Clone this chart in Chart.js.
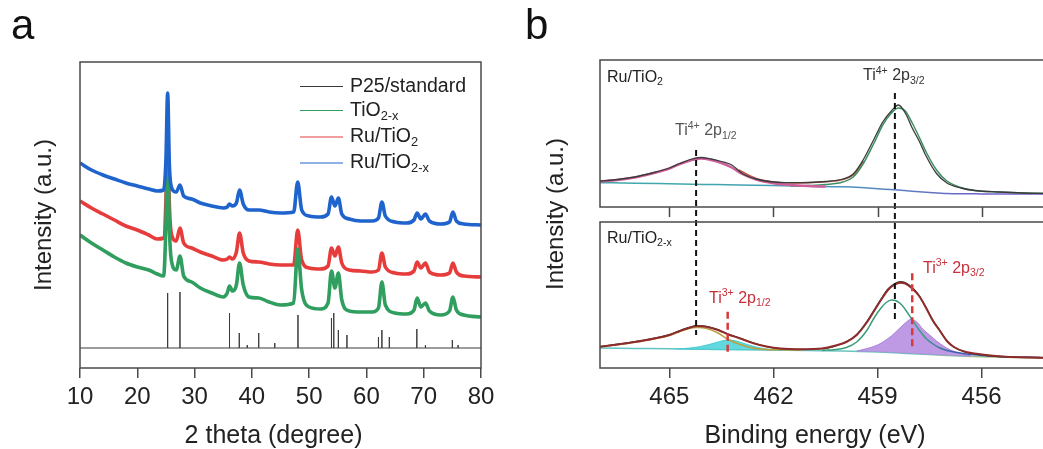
<!DOCTYPE html>
<html>
<head>
<meta charset="utf-8">
<script src="https://cdn.jsdelivr.net/npm/chart.js@4.4.1/dist/chart.umd.min.js"></script>
<style>
  html, body { margin: 0; padding: 0; background: #fff; overflow: hidden; }
  #wrap { position: relative; width: 1043px; height: 449px; overflow: hidden; }
  #wrap canvas { position: absolute; top: 0; }
  #xrd { left: 0; }
  #xps { left: 520px; }
  .panel-tag { position: absolute; font-family: 'Liberation Sans', Arial, sans-serif; font-size: 42px; line-height: 1; color: #111; }
</style>
</head>
<body>
<div id="wrap">
  <canvas id="xrd" width="520" height="449"></canvas>
  <canvas id="xps" width="545" height="449"></canvas>
  <div class="panel-tag" style="left:11px; top:4px;">a</div>
  <div class="panel-tag" style="left:525px; top:4px;">b</div>
</div>
<script>
// ---------------- (a) XRD patterns ----------------
const twoTheta = [10, 12, 14, 16, 18, 20, 22, 23.5, 24.6, 25.0, 25.3, 25.6, 26.0, 26.8, 27.45, 28.1, 29.5, 31, 33, 35,
  35.7, 36.1, 36.6, 37.3, 37.85, 38.5, 39.5, 41.2, 43, 45, 47.3, 48.0, 48.7, 50, 52, 53.3, 53.9, 54.5, 55.1, 55.7,
  57, 59, 61, 62.1, 62.7, 63.3, 65, 67, 68.3, 68.85, 69.5, 70.3, 71, 73, 74.5, 75.1, 75.7, 77, 80];
const ruTiO2x = [205, 198, 193, 189, 185, 182, 179, 177, 178, 208, 275, 203, 180, 176, 183, 172, 169, 165, 162, 160,
  161, 164, 162, 165, 178, 164, 158, 158, 156, 155, 156, 186, 158, 152, 151, 154, 171, 162, 170, 154,
  149, 147, 147, 150, 166, 152, 146, 145, 148, 155, 149, 154, 147, 144, 146, 156, 147, 144, 143];
const ruTiO2 = [167, 160, 154, 148, 142, 138, 133, 129, 130, 168, 243, 163, 133, 127, 140, 125, 120, 116, 112, 108,
  109, 111, 109, 116, 135, 115, 107, 106, 104, 103, 103, 138, 108, 100, 99, 102, 120, 112, 121, 105,
  98, 97, 96, 98, 115, 101, 95, 94, 97, 106, 100, 105, 96, 93, 95, 105, 96, 92, 91];
const tiO2x = [133, 125, 118, 111, 105, 101, 98, 94, 92, 143, 218, 140, 106, 98, 112, 92, 86, 80, 75, 71,
  75, 82, 77, 83, 105, 83, 71, 70, 66, 63, 65, 119, 78, 61, 59, 65, 97, 80, 95, 68,
  57, 56, 56, 60, 86, 63, 55, 54, 58, 70, 61, 65, 57, 53, 57, 71, 58, 53, 51];
// reference pattern: reflection positions and stick tops above the baseline level
const p25Positions = [25.3, 27.45, 36.1, 37.8, 39.2, 41.2, 44.0, 48.05, 53.9, 54.3, 55.1, 56.6, 62.1, 62.7, 64.0, 68.8, 70.3, 75.0, 76.0];
const p25Tops = [75, 76, 55, 35, 23, 35, 25, 53, 50, 55, 38, 33, 31, 38, 31, 39, 23, 28, 23];
const p25Baseline = 20;
const xrdTicks = [10, 20, 30, 40, 50, 60, 70, 80];

// ---------------- (b) Ti 2p XPS ----------------
const beTicks = [465, 462, 459, 456];
// Ru/TiO2 (upper panel, local intensity units)
const topRawBE = [467, 466.5, 466, 465.5, 465, 464.7, 464.4, 464.1, 463.8, 463.5, 463.2, 462.9, 462.5, 462, 461.5, 461, 460.5, 460, 459.7, 459.4,
  459.1, 458.85, 458.6, 458.4, 458.2, 458, 457.8, 457.6, 457.3, 457, 456.6, 456.2, 455.5, 454.8, 454];
const topRaw = [26, 27.5, 30, 34, 39, 43.5, 47.5, 49.5, 48, 45.5, 42, 33.5, 28, 25, 24.3, 24.5, 25.5, 28, 33, 48,
  68, 85, 96, 102, 94, 79, 66, 51, 33.5, 24, 19, 16.5, 15, 14, 13.5];
const topP12BE = [467, 466.5, 466, 465.5, 465, 464.7, 464.4, 464.1, 463.8, 463.5, 463.2, 462.9, 462.5, 462, 461.5, 461, 460.5];
const topP12 = [25.5, 27, 29.5, 33.5, 38.5, 43, 46.5, 48.5, 47, 44, 39.5, 33, 27.5, 23.8, 22, 21, 20.4];
const topP32BE = [461.5, 461, 460.5, 460, 459.7, 459.4, 459.1, 458.85, 458.6, 458.4, 458.2, 458, 457.8, 457.6, 457.3, 457, 456.6, 456.2, 455.5, 454.8, 454];
const topP32 = [21, 21.5, 22.5, 25, 30, 44, 64, 82, 94, 99, 96, 84, 70, 55, 37, 26, 19.5, 16.5, 15, 14, 13.5];
const topSumBE = [463, 462.5, 462, 461.5, 461, 460.5, 460, 459.7, 459.4];
const topSum = [37, 28.5, 25, 24, 24.2, 25.2, 27.5, 32, 46];
const topBgBE = [467, 466, 465, 464, 463, 462, 461, 460, 459.5, 459, 458.5, 458, 457.5, 457, 456, 455, 454];
const topBg = [24.3, 23.8, 23.2, 22.6, 22, 21.5, 20.8, 20.2, 19.5, 18.3, 17.2, 15.8, 14.6, 13.6, 13.1, 13, 12.8];
const topOffset = 161;
// Ru/TiO2-x (lower panel)
const botBE = [467, 466.5, 466, 465.5, 465, 464.7, 464.4, 464.2, 463.9, 463.6, 463.3, 463, 462.6, 462.2, 461.8, 461.2, 460.6, 460.2, 459.9, 459.6,
  459.3, 459.1, 458.9, 458.7, 458.5, 458.35, 458.2, 458, 457.8, 457.6, 457.4, 457.2, 457, 456.8, 456.5, 456, 455.3, 454.5, 454];
const botEnvelope = [21.3, 23.5, 26, 29, 33, 37, 40.5, 42, 41, 38, 33.5, 30, 25, 21.5, 19.5, 18.8, 19.5, 22.5, 26, 33,
  46, 57, 68, 78, 83.5, 85.3, 84.5, 79.5, 72, 60, 47, 37, 27, 21, 16.5, 13.5, 11.3, 10.5, 10.2];
const botRaw = [21.5, 23.8, 26.3, 29.5, 33.5, 37.5, 41, 42.3, 41.5, 38.5, 34, 30.3, 25.2, 21.3, 19.3, 18.6, 19.3, 22.2, 26.2, 33.5,
  46.8, 58, 69, 79, 84.5, 86.3, 85.5, 80.5, 72.5, 60.5, 47.5, 37.5, 27.2, 21, 16.3, 13.2, 11, 10.3, 10];
const botTi4P12BE = [467, 466.5, 466, 465.5, 465, 464.7, 464.4, 464.2, 463.9, 463.6, 463.3, 463, 462.6, 462.2, 461.8, 461.2];
const botTi4P12 = [21.2, 23.3, 25.8, 28.8, 32.5, 36.5, 39.8, 40.4, 39.3, 35, 28.5, 24, 20, 18.6, 18.2, 17.8];
const botTi4P32BE = [460.6, 460.2, 459.9, 459.6, 459.3, 459.1, 458.9, 458.75, 458.6, 458.45, 458.3, 458.15, 458, 457.8, 457.6, 457.4, 457.2, 457, 456.7, 456.3, 455.8, 455, 454.3];
const botTi4P32 = [17.6, 18.6, 20.5, 26, 38, 50, 60, 65.5, 68, 67, 63, 56, 48, 38, 29.5, 24, 20, 17.5, 15.5, 13.5, 12, 11, 10.5];
const ti3P12BE = [464.8, 464.4, 464.1, 463.8, 463.55, 463.3, 463.05, 462.8, 462.5, 462.2, 461.8];
const ti3P12 = [19, 20, 21.5, 24, 26.5, 28, 26.8, 24, 21, 19, 18];
const ti3P12Base = [19, 18.8, 18.7, 18.5, 18.4, 18.3, 18.2, 18.1, 18, 17.9, 17.7];
const ti3P32BE = [459.6, 459.3, 459, 458.8, 458.6, 458.4, 458.2, 458.03, 457.85, 457.7, 457.5, 457.3, 457.1, 456.9, 456.7, 456.5, 456.3];
const ti3P32 = [17, 19.5, 23, 27, 32, 38.5, 45, 48.7, 45.5, 39, 33, 27, 22, 18, 15.5, 13.5, 12];
const ti3P32Base = [16.6, 16.2, 16, 15.7, 15.4, 15.1, 14.7, 14.4, 14.1, 13.8, 13.4, 13.1, 12.8, 12.4, 12.1, 11.8, 11.5];
const botBgBE = [467, 466, 465, 464, 463, 462, 461, 460, 459.5, 459, 458.5, 458, 457.5, 457, 456.5, 456, 455, 454];
const botBg = [20, 19.6, 19.2, 18.7, 18.2, 17.8, 17.4, 17, 16.6, 16, 15.2, 14.3, 13.4, 12.6, 11.8, 11.2, 10.4, 10];
// peak-position markers (shared intensity units)
const ti4MarkBE = [464.23, 458.5];
const ti4MarkTop = [218, 275];
const ti4MarkBottom = [33, 45];
const ti3MarkBE = [463.32, 458.0];
const ti3MarkTop = [56.3, 94.7];
const ti3MarkBottom = [14.7, 21.3];
const panelRanges = [[161, 308], [0, 146]];

// ---------------- helpers ----------------
const FONT = "'Liberation Sans', Arial, Helvetica, sans-serif";
Chart.defaults.font.family = FONT;
Chart.defaults.color = '#222';
const AXIS_COLOR = '#4a4a4a';

function pairs(xs, ys, offset = 0) {
  return xs.map((x, i) => ({ x, y: ys[i] + offset }));
}
function stickPattern(pos, tops, base, lo, hi) {
  const pts = [{ x: lo, y: base }];
  pos.forEach((p, i) => { pts.push({ x: p, y: base }, { x: p, y: tops[i] }, { x: p, y: base }); });
  pts.push({ x: hi, y: base });
  return pts;
}
function vLines(xs, tops, bottoms) {
  return xs.map((x, i) => [{ x, y: tops[i] }, { x, y: bottoms[i] }]);
}
// text made of normal / subscript / superscript pieces
function drawRich(ctx, x, y, parts, size, color) {
  let cx = x;
  ctx.save();
  ctx.fillStyle = color;
  ctx.textBaseline = 'middle';
  ctx.textAlign = 'left';
  for (const [txt, kind] of parts) {
    const s = kind === 'n' ? size : size * 0.66;
    const dy = kind === 'sub' ? size * 0.3 : (kind === 'sup' ? -size * 0.32 : 0);
    ctx.font = `${s}px ${FONT}`;
    ctx.fillText(txt, cx, y + dy);
    cx += ctx.measureText(txt).width;
  }
  ctx.restore();
}
function curve(label, data, color, width, order, extra = {}) {
  return Object.assign({ label, data, borderColor: color, borderWidth: width, pointRadius: 0,
    cubicInterpolationMode: 'monotone', fill: false, order }, extra);
}

// ---------------- chart (a) ----------------
const xrdColors = { 'P25/standard': '#3a3a3a', 'TiO2-x': '#2f9e5f', 'Ru/TiO2': '#e63c3c', 'Ru/TiO2-x': '#1f63cc' };
const xrdLegendEntries = [
  { label: 'P25/standard', parts: [['P25/standard', 'n']] },
  { label: 'TiO2-x', parts: [['TiO', 'n'], ['2-x', 'sub']] },
  { label: 'Ru/TiO2', parts: [['Ru/TiO', 'n'], ['2', 'sub']] },
  { label: 'Ru/TiO2-x', parts: [['Ru/TiO', 'n'], ['2-x', 'sub']] }
];

const xrdFrame = {
  id: 'xrdFrame',
  afterDatasetsDraw(chart) {
    const { ctx, chartArea: a } = chart;
    ctx.save();
    ctx.strokeStyle = AXIS_COLOR;
    ctx.lineWidth = 1.5;
    ctx.strokeRect(a.left, a.top, a.right - a.left, a.bottom - a.top);
    ctx.restore();
  }
};
const xrdLegend = {
  id: 'xrdLegend',
  afterDraw(chart) {
    const ctx = chart.ctx;
    const rows = [86.5, 110.5, 137, 163];
    xrdLegendEntries.forEach((e, i) => {
      const y = rows[i];
      ctx.save();
      ctx.strokeStyle = xrdColors[e.label];
      ctx.lineWidth = 1;
      ctx.beginPath();
      ctx.moveTo(300, y);
      ctx.lineTo(343, y);
      ctx.stroke();
      ctx.restore();
      drawRich(ctx, 350, y, e.parts, 19.5, '#222');
    });
  }
};

new Chart(document.getElementById('xrd'), {
  type: 'line',
  data: {
    datasets: [
      curve('P25/standard', stickPattern(p25Positions, p25Tops, p25Baseline, 10, 80), xrdColors['P25/standard'], 1, 0,
        { cubicInterpolationMode: 'default', tension: 0 }),
      curve('Ru/TiO2-x', pairs(twoTheta, ruTiO2x), xrdColors['Ru/TiO2-x'], 3.6, 1),
      curve('TiO2-x', pairs(twoTheta, tiO2x), xrdColors['TiO2-x'], 3.6, 2),
      curve('Ru/TiO2', pairs(twoTheta, ruTiO2), xrdColors['Ru/TiO2'], 3.6, 3)
    ]
  },
  options: {
    responsive: false,
    animation: false,
    devicePixelRatio: 1,
    layout: { padding: { left: 0, top: 62, right: 39, bottom: 0 } },
    plugins: { legend: { display: false }, tooltip: { enabled: false } },
    scales: {
      x: {
        type: 'linear', min: 10, max: 80,
        afterBuildTicks: (s) => { s.ticks = xrdTicks.map(v => ({ value: v })); },
        afterFit: (s) => { s.height = 81; },
        grid: { drawOnChartArea: false, drawTicks: true, tickLength: 10, color: AXIS_COLOR, lineWidth: 1.5 },
        border: { display: false },
        ticks: { font: { size: 24 }, color: '#222', padding: 5, maxRotation: 0 },
        title: { display: true, text: '2 theta (degree)\u00a0\u00a0', font: { size: 25, lineHeight: 1 }, padding: 0, color: '#222' }
      },
      y: {
        type: 'linear', min: 0, max: 306,
        afterFit: (s) => { s.width = 80; },
        grid: { display: false },
        border: { display: false },
        ticks: { display: false },
        title: { display: true, text: 'Intensity (a.u.)', font: { size: 24, lineHeight: 1 }, padding: { top: 32, bottom: 0 }, color: '#222' }
      }
    }
  },
  plugins: [xrdFrame, xrdLegend]
});

// ---------------- chart (b) ----------------
const xpsLabels = [
  { x: 87, y: 77.5, parts: [['Ru/TiO', 'n'], ['2', 'sub']], color: '#222' },
  { x: 343, y: 76, parts: [['Ti', 'n'], ['4+', 'sup'], [' 2p', 'n'], ['3/2', 'sub']], color: '#333' },
  { x: 155, y: 131, parts: [['Ti', 'n'], ['4+', 'sup'], [' 2p', 'n'], ['1/2', 'sub']], color: '#555' },
  { x: 87, y: 238.5, parts: [['Ru/TiO', 'n'], ['2-x', 'sub']], color: '#222' },
  { x: 189, y: 298.5, parts: [['Ti', 'n'], ['3+', 'sup'], [' 2p', 'n'], ['1/2', 'sub']], color: '#c8303a' },
  { x: 403, y: 268.5, parts: [['Ti', 'n'], ['3+', 'sup'], [' 2p', 'n'], ['3/2', 'sub']], color: '#c8303a' }
];

const xpsFrame = {
  id: 'xpsFrame',
  afterDatasetsDraw(chart) {
    const { ctx, chartArea: a, scales } = chart;
    ctx.save();
    ctx.strokeStyle = AXIS_COLOR;
    ctx.lineWidth = 1.5;
    panelRanges.forEach(([lo, hi]) => {
      const t = scales.y.getPixelForValue(hi);
      const b = scales.y.getPixelForValue(lo);
      ctx.strokeRect(a.left, t, a.right - a.left, b - t);
    });
    // tick marks under the upper panel
    const yb = scales.y.getPixelForValue(panelRanges[0][0]);
    ctx.beginPath();
    beTicks.forEach(v => {
      const px = Math.round(scales.x.getPixelForValue(v)) + 0.5;
      ctx.moveTo(px, yb);
      ctx.lineTo(px, yb + 10);
    });
    ctx.stroke();
    ctx.restore();
  },
  afterDraw(chart) {
    xpsLabels.forEach(l => drawRich(chart.ctx, l.x, l.y, l.parts, 16, l.color));
  }
};

function bgGradient(stops, fromBE, toBE) {
  return (c) => {
    const { ctx, chartArea, scales } = c.chart;
    if (!chartArea) return stops[0][1];
    const g = ctx.createLinearGradient(scales.x.getPixelForValue(fromBE), 0, scales.x.getPixelForValue(toBE), 0);
    stops.forEach(([p, col]) => g.addColorStop(p, col));
    return g;
  };
}

const markers = [];
vLines(ti4MarkBE, ti4MarkTop, ti4MarkBottom).forEach((d, i) => markers.push(
  curve('Ti4+ marker ' + i, d, '#111', 2, 0, { cubicInterpolationMode: 'default', tension: 0, borderDash: [6, 4] })));
vLines(ti3MarkBE, ti3MarkTop, ti3MarkBottom).forEach((d, i) => markers.push(
  curve('Ti3+ marker ' + i, d, '#d63a3a', 2.5, 0, { cubicInterpolationMode: 'default', tension: 0, borderDash: [7, 4] })));

new Chart(document.getElementById('xps'), {
  type: 'line',
  data: {
    datasets: [
      ...markers,
      // Ru/TiO2
      curve('Ru/TiO2 raw', pairs(topRawBE, topRaw, topOffset), '#3b3b3b', 1.3, 2),
      curve('Ru/TiO2 Ti4+ 2p1/2', pairs(topP12BE, topP12, topOffset), '#cf5f9a', 2.5, 3),
      curve('Ru/TiO2 Ti4+ 2p3/2', pairs(topP32BE, topP32, topOffset), '#3f8f63', 1.5, 3),
      curve('Ru/TiO2 envelope', pairs(topSumBE, topSum, topOffset), '#b5503f', 1.5, 4),
      curve('Ru/TiO2 background', pairs(topBgBE, topBg, topOffset),
        bgGradient([[0, '#3fa7ad'], [0.55, '#4f8fbf'], [1, '#7260c8']], 464, 456), 1.5, 5),
      // Ru/TiO2-x
      curve('Ru/TiO2-x envelope', pairs(botBE, botEnvelope), '#8e2b2b', 2, 1),
      curve('Ru/TiO2-x raw', pairs(botBE, botRaw), '#333', 1.2, 2),
      curve('Ru/TiO2-x Ti4+ 2p1/2', pairs(botTi4P12BE, botTi4P12), '#b9a042', 1.5, 3),
      curve('Ru/TiO2-x Ti4+ 2p3/2', pairs(botTi4P32BE, botTi4P32),
        bgGradient([[0, '#3a9e78'], [0.5, '#3f9a86'], [1, '#3a5fae']], 458.6, 456.8), 1.5, 3),
      curve('Ru/TiO2-x Ti3+ 2p1/2', pairs(ti3P12BE, ti3P12), 'rgba(60,200,210,0.9)', 1, 5,
        { fill: '+1', backgroundColor: 'rgba(70,210,216,0.85)' }),
      curve('Ti3+ 2p1/2 base', pairs(ti3P12BE, ti3P12Base), 'rgba(0,0,0,0)', 1, 7),
      curve('Ru/TiO2-x Ti3+ 2p3/2', pairs(ti3P32BE, ti3P32), 'rgba(165,120,215,0.9)', 1, 5,
        { fill: '+1', backgroundColor: 'rgba(178,136,222,0.85)' }),
      curve('Ti3+ 2p3/2 base', pairs(ti3P32BE, ti3P32Base), 'rgba(0,0,0,0)', 1, 7),
      curve('Ru/TiO2-x background', pairs(botBgBE, botBg),
        bgGradient([[0, '#5cc3c4'], [0.7, '#6cc5be'], [1, '#cdbf55']], 467, 454), 1.5, 6)
    ]
  },
  options: {
    responsive: false,
    animation: false,
    devicePixelRatio: 1,
    layout: { padding: { left: 0, top: 60, right: 14, bottom: 0 } },
    plugins: { legend: { display: false }, tooltip: { enabled: false } },
    scales: {
      x: {
        type: 'linear', min: 454, max: 467, reverse: true,
        afterBuildTicks: (s) => { s.ticks = beTicks.map(v => ({ value: v })); },
        afterFit: (s) => { s.height = 81; },
        grid: { drawOnChartArea: false, drawTicks: true, tickLength: 10, color: AXIS_COLOR, lineWidth: 1.5 },
        border: { display: false },
        ticks: { font: { size: 24 }, color: '#222', padding: 5, maxRotation: 0 },
        title: { display: true, text: 'Binding energy (eV)\u00a0\u00a0\u00a0', font: { size: 25, lineHeight: 1 }, padding: 0, color: '#222' }
      },
      y: {
        type: 'linear', min: 0, max: 308,
        afterFit: (s) => { s.width = 80; },
        grid: { display: false },
        border: { display: false },
        ticks: { display: false },
        title: { display: true, text: 'Intensity (a.u.)', font: { size: 24, lineHeight: 1 }, padding: { top: 24, bottom: 0 }, color: '#222' }
      }
    }
  },
  plugins: [xpsFrame]
});
</script>
</body>
</html>
